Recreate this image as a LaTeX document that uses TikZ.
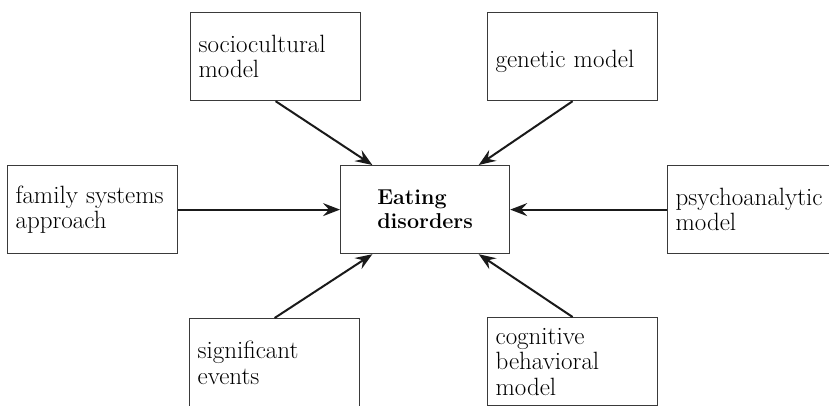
\documentclass[tikz,border=0pt]{standalone}
\usetikzlibrary{arrows.meta,calc}
\definecolor{boxline}{HTML}{3A3A3A}
\definecolor{arrowink}{HTML}{1A1A1A}
\tikzset{
  factor/.style={draw=boxline, line width=1.2pt, rectangle, anchor=north west,
    minimum height=88pt, inner xsep=8pt, inner ysep=0pt, text width=154pt, align=left,
    font=\fontsize{25}{25.5}\selectfont},
  hub/.style={draw=boxline, line width=1.2pt, rectangle, anchor=north west,
    minimum height=88pt, minimum width=169pt, inner sep=0pt, align=left,
    font=\fontsize{21.5}{24}\selectfont\bfseries},
  influence/.style={draw=arrowink, line width=2pt,
    -{Stealth[length=17pt,width=13pt,inset=6pt]}}
}
\begin{document}
\begin{tikzpicture}[x=1pt,y=-1pt]
  \useasboundingbox (0,0) rectangle (829,405);
  \clip (0,0) rectangle (829,405);

  % central box
  \node[hub] (eat) at (340,165) {Eating\\disorders};

  % surrounding explanatory models
  \node[factor] (soc) at (190,12)  {sociocultural\\model};
  \node[factor, text height=24pt, text depth=2pt] (gen) at (487,12) {genetic model};
  \node[factor] (fam) at (7,165)   {family systems\\approach};
  \node[factor] (psy) at (667,165) {psychoanalytic\\model};
  \node[factor] (sig) at (189,318) {significant\\events};
  \node[factor] (cog) at (487,317) {cognitive\\behavioral\\model};

  % attachment points on the central box
  \coordinate (topL) at ($(eat.north west)!0.19!(eat.north east)$);
  \coordinate (topR) at ($(eat.north west)!0.815!(eat.north east)$);
  \coordinate (botL) at ($(eat.south west)!0.19!(eat.south east)$);
  \coordinate (botR) at ($(eat.south west)!0.815!(eat.south east)$);

  % influences
  \draw[influence] (soc.south) -- (topL);
  \draw[influence] (gen.south) -- (topR);
  \draw[influence] (fam.east) -- (eat.west);
  \draw[influence] (psy.west) -- (eat.east);
  \draw[influence] (sig.north) -- (botL);
  \draw[influence] (cog.north) -- (botR);
\end{tikzpicture}
\end{document}
